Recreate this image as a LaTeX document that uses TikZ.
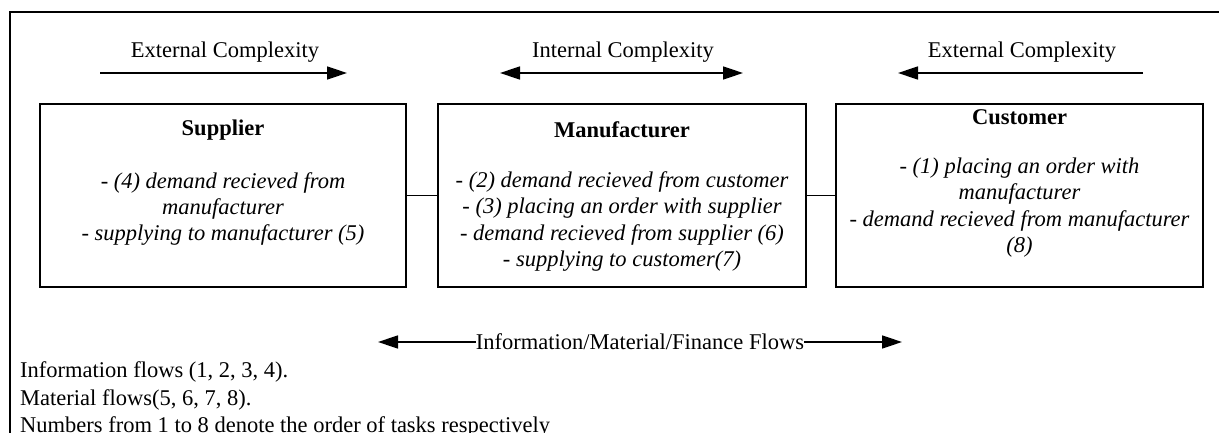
\documentclass[tikz,border=0pt]{standalone}
\usepackage{fontspec}
\setmainfont{Liberation Serif}
\usetikzlibrary{arrows.meta}
\begin{document}
\begin{tikzpicture}[x=1pt,y=-1pt,
  every node/.style={font=\fontsize{22.5}{26.5}\selectfont, inner sep=0pt},
  boxnode/.style={draw, line width=1.8pt, minimum height=183pt, inner sep=0pt},
  body/.style={align=center, font=\fontsize{22.5}{26.3}\selectfont\itshape},
  title/.style={font=\fontsize{22.5}{26.5}\selectfont\bfseries},
  conn/.style={line width=1.3pt},
  arr/.style={line width=1.5pt, -{Triangle[length=20pt,width=13pt]}},
  darr/.style={line width=1.5pt, {Triangle[length=20pt,width=13pt]}-{Triangle[length=20pt,width=13pt]}},
  frame/.style={line width=1.8pt}]
\useasboundingbox (0,0) rectangle (1219,433);
% frame
\coordinate (ftr) at (1219,12);
\coordinate (ftl) at (10,12);
\coordinate (fbl) at (10,433);
\draw[frame] (ftr) -- (ftl) -- (fbl);
% boxes
\node[boxnode, minimum width=366pt] (sup) at (223,195.5) {};
\node[boxnode, minimum width=368pt] (man) at (622,195.5) {};
\node[boxnode, minimum width=367pt] (cus) at (1019.5,195.5) {};
\draw[conn] (sup.east) -- (man.west);
\draw[conn] (man.east) -- (cus.west);
% titles
\node[title] (supt) at (223,130) {Supplier};
\node[title] (mant) at (622,130) {Manufacturer};
\node[title] (cust) at (1019.5,117) {Customer};
% bodies
\node[body] (supb) at (223,209) {- (4) demand recieved from\\ manufacturer\\ - supplying to manufacturer (5)};
\node[body] (manb) at (622,221.5) {- (2) demand recieved from customer\\ - (3) placing an order with supplier\\ - demand recieved from supplier (6)\\ - supplying to customer(7)};
\node[body] (cusb) at (1019.5,207.5) {- (1) placing an order with\\ manufacturer\\ - demand recieved from manufacturer\\ (8)};
% top arrows
\coordinate (a1s) at (100,73); \coordinate (a1e) at (347,73);
\coordinate (a2s) at (500,73); \coordinate (a2e) at (743,73);
\coordinate (a3s) at (1143,73); \coordinate (a3e) at (898,73);
\draw[arr] (a1s) -- (a1e);
\draw[darr] (a2s) -- (a2e);
\draw[arr] (a3s) -- (a3e);
\node (l1) at (225,52) {External Complexity};
\node (l2) at (623,52) {Internal Complexity};
\node (l3) at (1022,52) {External Complexity};
% bottom flow arrow
\node (flow) at (640,342) {Information/Material/Finance Flows};
\coordinate (fl) at (378,342);
\coordinate (fr) at (902,342);
\draw[arr] (flow.west) -- (fl);
\draw[arr] (flow.east) -- (fr);
% notes
\node[anchor=west] (n1) at (20,372) {Information flows (1, 2, 3, 4).};
\node[anchor=west] (n2) at (20,400) {Material flows(5, 6, 7, 8).};
\node[anchor=west] (n3) at (20,427) {Numbers from 1 to 8 denote the order of tasks respectively};
\end{tikzpicture}
\end{document}
